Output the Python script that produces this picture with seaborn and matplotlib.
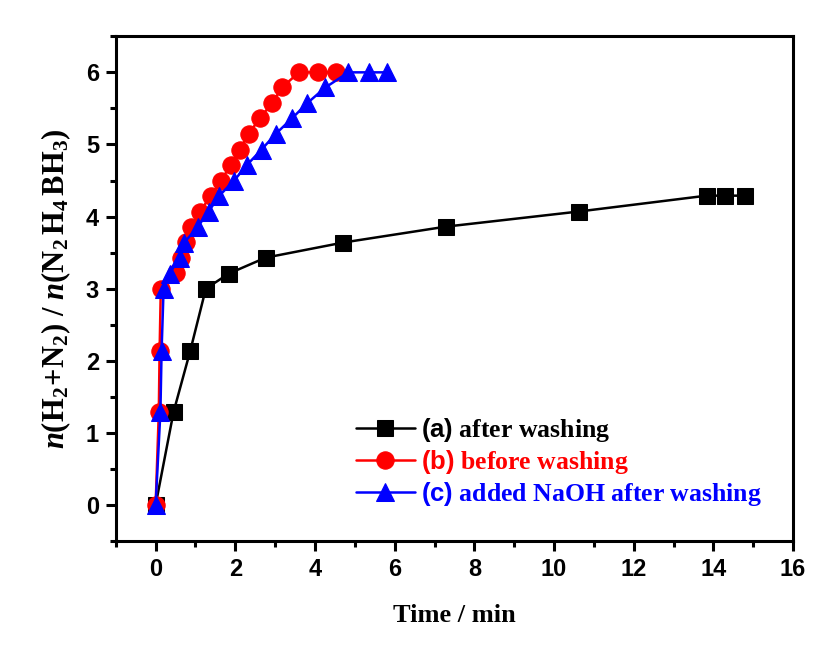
import numpy as np
import pandas as pd
import matplotlib
matplotlib.use("Agg")
import matplotlib.pyplot as plt
from matplotlib.ticker import MultipleLocator
import seaborn as sns

# ---- data ----
a_time = [0.0, 0.45, 0.87, 1.26, 1.84, 2.76, 4.71, 7.28, 10.62, 13.83, 14.3, 14.8]
a_val = [0.0, 1.29, 2.14, 3.0, 3.21, 3.43, 3.64, 3.86, 4.07, 4.29, 4.29, 4.29]

b_time = [0.0, 0.08, 0.10, 0.13, 0.52, 0.63, 0.76, 0.9, 1.12, 1.38, 1.65, 1.88, 2.11,
          2.34, 2.61, 2.92, 3.17, 3.6, 4.07, 4.52]
b_val = [0.0, 1.29, 2.14, 3.0, 3.22, 3.43, 3.65, 3.86, 4.07, 4.29, 4.5, 4.72, 4.93,
         5.15, 5.36, 5.57, 5.79, 6.0, 6.0, 6.0]

c_time = [0.0, 0.12, 0.15, 0.2, 0.35, 0.6, 0.72, 1.06, 1.33, 1.6, 1.97, 2.3, 2.66,
          3.02, 3.42, 3.8, 4.26, 4.84, 5.35, 5.81]
c_val = [0.0, 1.29, 2.14, 3.0, 3.21, 3.43, 3.64, 3.86, 4.07, 4.29, 4.5, 4.72, 4.93,
         5.15, 5.36, 5.57, 5.79, 6.0, 6.0, 6.0]

labels = [r"$\mathsf{(a)}$ after washing",
          r"$\mathsf{(b)}$ before washing",
          r"$\mathsf{(c)}$ added NaOH after washing"]
colors = ["black", "#ff0000", "#0000ff"]
markers = ["s", "o", "^"]
msizes = [11, 12.5, 13]

x_ticks = [0, 2, 4, 6, 8, 10, 12, 14, 16]
y_ticks = [0, 1, 2, 3, 4, 5, 6]

sns.set_style("white")
plt.rcParams["font.family"] = ["Liberation Sans", "DejaVu Sans"]
plt.rcParams["font.weight"] = "bold"
plt.rcParams["text.color"] = "black"
plt.rcParams["axes.labelcolor"] = "black"
plt.rcParams["xtick.color"] = "black"
plt.rcParams["ytick.color"] = "black"
plt.rcParams["mathtext.fontset"] = "custom"
plt.rcParams["mathtext.rm"] = "Liberation Serif:bold"
plt.rcParams["mathtext.bf"] = "Liberation Serif:bold"
plt.rcParams["mathtext.it"] = "Liberation Serif:italic:bold"
plt.rcParams["mathtext.sf"] = "Liberation Sans:bold"

fig = plt.figure(figsize=(8.27, 6.48), dpi=100)
ax = fig.add_axes([0.140, 0.165, 0.819, 0.779])

series = [(a_time, a_val), (b_time, b_val), (c_time, c_val)]
for (t, v), lab, col, mk, ms in zip(series, labels, colors, markers, msizes):
    df = pd.DataFrame({"t": t, "v": v})
    sns.lineplot(data=df, x="t", y="v", ax=ax, sort=False, color=col, marker=mk,
                 markersize=ms, markeredgecolor=col, markerfacecolor=col,
                 linewidth=1.8, label=lab, estimator=None)

ax.set_xlim(-1, 16)
ax.set_ylim(-0.5, 6.5)
ax.set_xticks(x_ticks)
ax.set_yticks(y_ticks)
ax.xaxis.set_minor_locator(MultipleLocator(1))
ax.yaxis.set_minor_locator(MultipleLocator(0.5))

for s in ax.spines.values():
    s.set_linewidth(2.2)
    s.set_color("black")

ax.tick_params(axis="both", which="major", direction="out", length=7, width=2.2,
               labelsize=17, bottom=True, left=True, top=False, right=False, pad=5,
               colors="black")
ax.tick_params(axis="both", which="minor", direction="out", length=4.5, width=2.2,
               bottom=True, left=True, top=False, right=False, colors="black")
for lbl in ax.get_xticklabels() + ax.get_yticklabels():
    lbl.set_fontweight("bold")

ax.set_xlabel("Time / min", family="Liberation Serif", fontweight="bold",
              fontsize=19, labelpad=17, color="black")
ax.set_ylabel(r"$\mathit{n}(\mathrm{H_2\!+\!N_2})\ /\ \mathit{n}(\mathrm{N_2\,H_4\,BH_3})$",
              fontsize=22, labelpad=9, color="black")

leg = ax.legend(loc="lower left", bbox_to_anchor=(0.32, 0.02), frameon=False,
                handlelength=2.3, handletextpad=0.25, labelspacing=0.15,
                prop={"family": "Liberation Serif", "weight": "bold", "size": 18.5})
for txt, col in zip(leg.get_texts(), colors):
    txt.set_color(col)

fig.savefig("out.png", dpi=100)
